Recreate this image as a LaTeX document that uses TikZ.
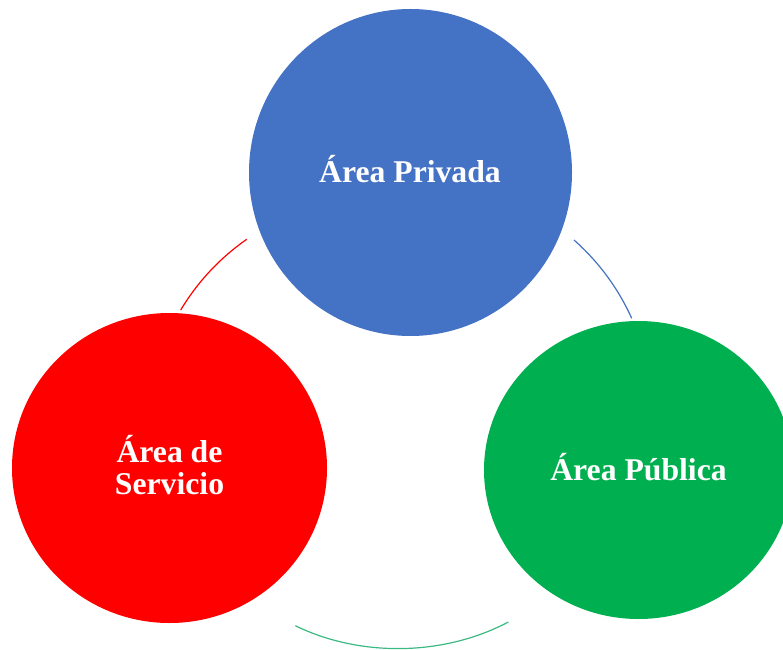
\documentclass[tikz,border=0pt]{standalone}
\usepackage{fontspec}
\setmainfont{Liberation Serif}
\usetikzlibrary{shapes.geometric}
\definecolor{cblue}{HTML}{4472C4}
\definecolor{cred}{HTML}{FF0000}
\definecolor{cgreen}{HTML}{00B050}
\definecolor{carcgreen}{RGB}{60,185,130}
\begin{document}
\begin{tikzpicture}[x=1pt,y=1pt,
  blob/.style={ellipse,inner sep=0pt,draw=none},
  lbl/.style={text=white,font=\fontsize{31.7}{32.5}\selectfont\bfseries,anchor=base,inner sep=0pt},
  link/.style={line width=1.2pt,bend left=12,looseness=0.87},
  ]
\useasboundingbox (0,0) rectangle (783,649);
\node[blob,fill=cblue,minimum width=323pt,minimum height=327pt] (priv) at (410.5,476.5) {};
\node[blob,fill=cred,minimum width=315pt,minimum height=310pt] (serv) at (169.5,181) {};
\node[blob,fill=cgreen,minimum width=309pt,minimum height=298pt] (publ) at (638.5,179) {};
\node[lbl] (tpriv) at (410,467) {Área Privada};
\node[lbl] (tserv1) at (169.5,187) {Área de};
\node[lbl] (tserv2) at (169.5,154.7) {Servicio};
\node[lbl] (tpubl) at (638.5,168.7) {Área Pública};
\coordinate (b1) at (574,409);
\coordinate (b2) at (631.7,330.7);
\coordinate (g1) at (508.3,27);
\coordinate (g2) at (295.3,23.3);
\coordinate (r1) at (180.7,339);
\coordinate (r2) at (246.7,409.7);
\draw[link,cblue] (b1) to (b2);
\draw[link,carcgreen,bend left=27] (g1) to (g2);
\draw[link,cred] (r1) to (r2);
\end{tikzpicture}
\end{document}
